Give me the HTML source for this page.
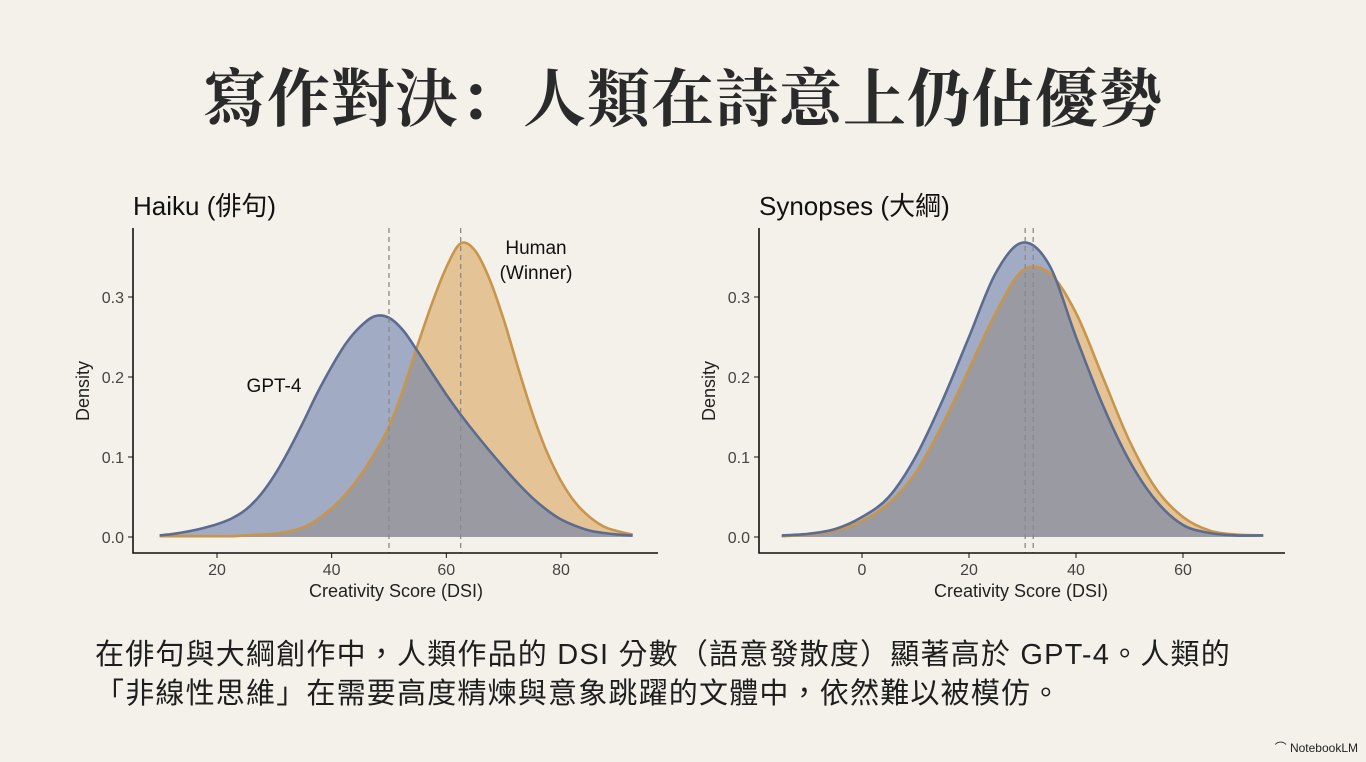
<!DOCTYPE html>
<html><head><meta charset="utf-8">
<style>
html,body{margin:0;padding:0;}
body{width:1366px;height:762px;background:#f4f1ea;position:relative;overflow:hidden;font-family:"Liberation Sans","Noto Sans CJK TC",sans-serif;}
#title{position:absolute;left:0;width:1366px;top:60px;text-align:center;font-family:"Liberation Serif","Noto Serif CJK SC",serif;font-weight:bold;font-size:63px;color:#2a2a2a;letter-spacing:1px;line-height:80px;}
#body-text{position:absolute;left:95px;top:636px;font-size:29px;letter-spacing:1.2px;line-height:39px;color:#1e1e1e;font-family:"Liberation Sans","Noto Sans CJK TC",sans-serif;white-space:nowrap;}
#brand{position:absolute;right:8px;top:739px;font-size:12px;color:#222;}
svg{position:absolute;left:0;top:0;}
</style></head>
<body>
<div id="title">寫作對決：人類在詩意上仍佔優勢</div>
<svg id="chart" width="1366" height="762"></svg>
<div id="body-text">在俳句與大綱創作中，人類作品的 DSI 分數（語意發散度）顯著高於 GPT-4。人類的<br>「非線性思維」在需要高度精煉與意象跳躍的文體中，依然難以被模仿。</div>
<div id="brand">⌒ NotebookLM</div>
<script>
// Haiku data
const haikuX = [10,12.5,15,17.5,20,22.5,25,27.5,30,32.5,35,37.5,40,42.5,45,47.5,50,52.5,55,57.5,60,62.5,65,67.5,70,72.5,75,77.5,80,82.5,85,87.5,90,92.5];
const haikuGpt = [0.002,0.004,0.007,0.011,0.016,0.023,0.034,0.052,0.077,0.108,0.143,0.18,0.213,0.242,0.263,0.276,0.274,0.258,0.232,0.205,0.178,0.153,0.13,0.108,0.087,0.067,0.049,0.034,0.022,0.014,0.008,0.005,0.003,0.002];
const haikuHuman = [0.001,0.001,0.001,0.001,0.001,0.001,0.002,0.003,0.004,0.007,0.012,0.022,0.036,0.054,0.077,0.105,0.138,0.185,0.24,0.292,0.337,0.367,0.358,0.323,0.272,0.212,0.155,0.107,0.07,0.043,0.025,0.013,0.007,0.003];
const haikuMeans = [50,62.5];
const haikuXTicks = [20,40,60,80];
// Synopses data
const synX = [-15,-10,-5,0,5,10,15,20,25,30,35,40,45,50,55,60,65,70,75];
const synGpt = [0.002,0.004,0.01,0.025,0.05,0.1,0.17,0.25,0.33,0.368,0.34,0.25,0.165,0.095,0.045,0.015,0.005,0.002,0.002];
const synHuman = [0.001,0.003,0.008,0.02,0.042,0.08,0.14,0.21,0.28,0.333,0.33,0.28,0.2,0.12,0.06,0.025,0.008,0.003,0.002];
const synMeans = [30.5,32];
const synXTicks = [0,20,40,60];
const yTicks = [0.0,0.1,0.2,0.3];

const NS="http://www.w3.org/2000/svg";
const svg=document.getElementById('chart');
function mk(tag,attrs,parent){const e=document.createElementNS(NS,tag);for(const k in attrs)e.setAttribute(k,attrs[k]);(parent||svg).appendChild(e);return e;}
function smooth(pts){let d="M"+pts[0][0]+","+pts[0][1];for(let i=0;i<pts.length-1;i++){const p0=pts[i-1]||pts[i],p1=pts[i],p2=pts[i+1],p3=pts[i+2]||p2;const c1x=p1[0]+(p2[0]-p0[0])/6,c1y=p1[1]+(p2[1]-p0[1])/6,c2x=p2[0]-(p3[0]-p1[0])/6,c2y=p2[1]-(p3[1]-p1[1])/6;d+=" C"+c1x+","+c1y+" "+c2x+","+c2y+" "+p2[0]+","+p2[1];}return d;}

function drawPanel(cfg){
  const xs=v=>cfg.x0+(v-cfg.v0)*cfg.kx;
  const ys=v=>537-v*800;
  const g=mk('g',{});
  
  
  const t=mk('text',{x:cfg.axisX,y:215,'font-size':26,fill:'#111'},g);t.textContent=cfg.title;
  
  
  const series=[[cfg.human,'rgba(218,168,98,0.62)','#c8954b','human-density'],[cfg.gpt,'rgba(105,126,170,0.6)','#5b6c90','gpt4-density']];
  series.forEach(s=>{
    const pts=cfg.xv.map((v,i)=>[xs(v),ys(s[0][i])]);
    const line=smooth(pts);
    const area=line+" L"+pts[pts.length-1][0]+","+ys(0)+" L"+pts[0][0]+","+ys(0)+" Z";
    const a=mk('path',{d:area,fill:s[1],stroke:'none'},g);
    
    
  });
  series.forEach(s=>{
    const pts=cfg.xv.map((v,i)=>[xs(v),ys(s[0][i])]);
    const l=mk('path',{d:smooth(pts),fill:'none',stroke:s[2],'stroke-width':2.6},g);
    
    
  });
  cfg.means.forEach(m=>{
    const l=mk('line',{x1:xs(m),x2:xs(m),y1:228,y2:553,stroke:'#8a8a8a','stroke-width':1.3,'stroke-dasharray':'5,4'},g);
    
    
  });
  const ax=mk('path',{d:`M${cfg.axisX},228 L${cfg.axisX},553 L${cfg.axisEnd},553`,fill:'none',stroke:'#111','stroke-width':1.6},g);
  
  
  yTicks.forEach(v=>{
    const tk=mk('line',{x1:cfg.axisX-5,x2:cfg.axisX,y1:ys(v),y2:ys(v),stroke:'#111','stroke-width':1},g);
    
    
    const tl=mk('text',{x:cfg.axisX-9,y:ys(v)+6,'font-size':16,fill:'#444','text-anchor':'end'},g);tl.textContent=v.toFixed(1);
    
    
  });
  cfg.ticks.forEach(v=>{
    const tk=mk('line',{x1:xs(v),x2:xs(v),y1:553,y2:558,stroke:'#111','stroke-width':1},g);
    
    
    const tl=mk('text',{x:xs(v),y:575,'font-size':16,fill:'#444','text-anchor':'middle'},g);tl.textContent=v;
    
    
  });
  const xt=mk('text',{x:cfg.xTitleX,y:597,'font-size':18,fill:'#222','text-anchor':'middle'},g);xt.textContent='Creativity Score (DSI)';
  
  
  const yt=mk('text',{x:0,y:0,'font-size':18,fill:'#222','text-anchor':'middle',transform:`translate(${cfg.axisX-44},391) rotate(-90)`},g);yt.textContent='Density';
  
  
  return {xs,ys,g};
}
const p1=drawPanel({name:'haiku-chart',title:'Haiku (俳句)',x0:217,v0:20,kx:5.733,axisX:133,axisEnd:658,xv:haikuX,gpt:haikuGpt,human:haikuHuman,means:haikuMeans,ticks:haikuXTicks,xTitleX:396});
const p2=drawPanel({name:'synopses-chart',title:'Synopses (大綱)',x0:862,v0:0,kx:5.35,axisX:759,axisEnd:1285,xv:synX,gpt:synGpt,human:synHuman,means:synMeans,ticks:synXTicks,xTitleX:1021});
[['Human',536,254],['(Winner)',536,279],['GPT-4',274,392]].forEach(a=>{
  const t=mk('text',{x:a[1],y:a[2],'font-size':19,fill:'#111','text-anchor':'middle'},p1.g);t.textContent=a[0];
  
  
});
</script>
</body></html>
